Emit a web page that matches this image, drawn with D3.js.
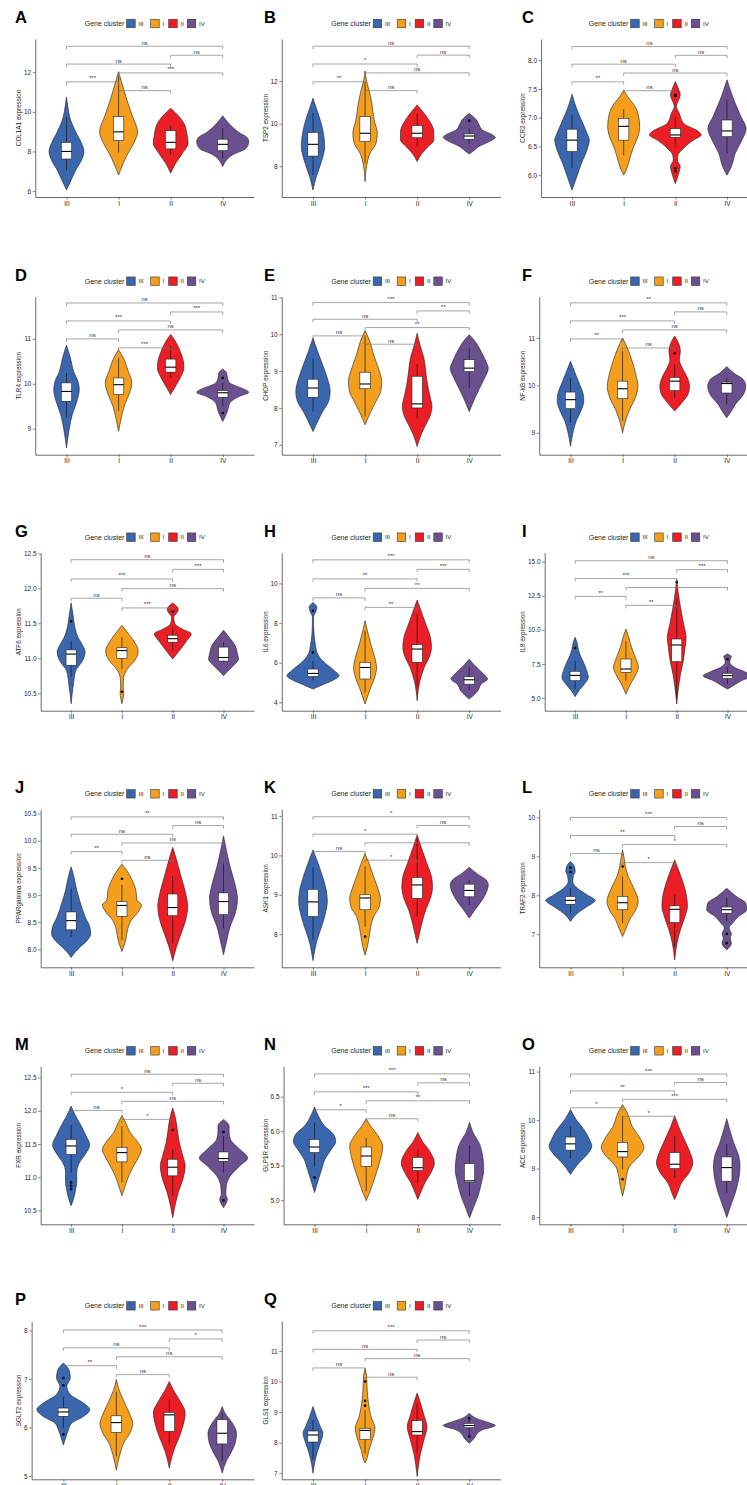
<!DOCTYPE html>
<html>
<head>
<meta charset="utf-8">
<script src="https://cdn.jsdelivr.net/npm/d3@7"></script>
<style>
  body { margin: 0; background: #fff; }
  svg { display: block; }
</style>
</head>
<body>
<svg id="fig" width="747" height="1485"></svg>
<script>
// ---- categories and labels ----
const clusters = ["III", "I", "II", "IV"];
const clusterColors = ["#3A66AE", "#F49E1E", "#EB1D25", "#6B5090"];
const letters = ["A","B","C","D","E","F","G","H","I","J","K","L","M","N","O","P","Q"];
const genes = ["COL1A1","TSP2","CCR2","TLR4","CHOP","NF-kB","ATF6","IL6","IL8","PPARgamma","ASK1","TRAF2","FXR","GLP1R","ACC","SGLT2","GLS1"];

// y-axis extents and tick labels for each gene
const yRanges = [[5.70,13.68],[6.56,13.97],[5.62,8.37],[8.42,11.94],[6.73,11.02],[8.54,11.87],[10.25,12.51],[3.58,11.55],[4.07,15.66],[7.67,10.58],[7.16,11.17],[6.15,10.21],[10.29,12.67],[4.65,6.94],[7.85,11.11],[4.93,8.19],[6.8,11.97]];
const yTickLabels = [
  ["6","8","10","12"],["8","10","12"],["6.0","6.5","7.0","7.5","8.0"],
  ["9","10","11"],["7","8","9","10","11"],["9","10","11"],
  ["10.5","11.0","11.5","12.0","12.5"],["4","6","8","10"],["5.0","7.5","10.0","12.5","15.0"],
  ["8.0","8.5","9.0","9.5","10.0","10.5"],["8","9","10","11"],["7","8","9","10"],
  ["10.5","11.0","11.5","12.0","12.5"],["5.0","5.5","6.0","6.5"],["8","9","10","11"],
  ["5","6","7","8"],["7","8","9","10","11"]
];

// pairwise comparisons, stacked from lowest to highest bracket
const comparisons = [["I","II"],["III","I"],["I","IV"],["III","II"],["II","IV"],["III","IV"]];
const sigLabels = [
  ["ns","***","***","ns","ns","ns"],
  ["ns","**","ns","*","ns","ns"],
  ["ns","**","ns","ns","ns","ns"],
  ["***","ns","ns","***","***","ns"],
  ["ns","ns","**","ns","**","***"],
  ["ns","**","ns","***","ns","**"],
  ["***","ns","ns","***","***","ns"],
  ["**","ns","**","**","***","***"],
  ["**","**","","***","***","ns"],
  ["ns","**","ns","ns","ns","**"],
  ["*","ns","","*","ns","*"],
  ["*","ns","*","**","ns","***"],
  ["*","ns","ns","*","ns","ns"],
  ["ns","*","**","***","ns","***"],
  ["*","*","***","**","ns","***"],
  ["ns","**","ns","ns","*","***"],
  ["ns","ns","ns","ns","ns","***"]
];
// expression level of the lowest and the highest bracket
const sigHeights = [[11.07,13.31],[11.55,13.63],[7.47,8.24],[10.8,11.8],[9.73,10.86],[10.79,11.74],[11.72,12.41],[8.79,11.19],[11.8,15.07],[9.64,10.44],[9.88,10.98],[8.84,10.0],[11.87,12.55],[6.18,6.83],[10.08,10.95],[7.09,8.01],[10.14,11.66]];

// ---- per gene: violin density profiles [expression, relative width] for III, I, II, IV ----
const COL1A1_violin = [
  [[10.74,0],[10.2,0.06],[9.76,0.12],[8.92,0.38],[8.41,0.58],[8.0,0.67],[7.57,0.58],[7.07,0.36],[6.56,0.18],[6.06,0]],
  [[12.03,0],[11.44,0.13],[10.6,0.32],[9.76,0.54],[9.0,0.73],[8.41,0.58],[7.9,0.36],[7.4,0.18],[6.81,0]],
  [[10.18,0],[9.85,0.26],[9.42,0.51],[8.75,0.64],[8.41,0.67],[7.9,0.45],[7.4,0.19],[6.9,0]],
  [[9.8,0],[9.42,0.23],[9.0,0.58],[8.67,0.96],[8.5,1.0],[8.16,0.9],[7.83,0.38],[7.57,0.15],[7.24,0]]
];
const COL1A1_box = [[7.05,7.62,8.0,8.46,9.75],[7.94,8.55,8.99,9.76,11.8],[7.83,8.13,8.46,9.05,9.3],[7.66,8.04,8.36,8.62,9.17]];
const COL1A1_out = [[],[],[],[]];

const TSP2_violin = [
  [[11.19,0],[10.64,0.15],[10.0,0.32],[9.39,0.42],[8.92,0.45],[8.45,0.38],[7.98,0.26],[7.52,0.13],[6.89,0]],
  [[12.47,0],[12.05,0.05],[11.58,0.15],[10.95,0.26],[10.17,0.35],[9.55,0.47],[9.08,0.42],[8.61,0.19],[8.14,0.08],[7.28,0]],
  [[10.88,0],[10.56,0.22],[10.17,0.45],[9.63,0.64],[9.23,0.64],[8.92,0.42],[8.61,0.19],[8.22,0]],
  [[10.48,0],[10.4,0.08],[10.17,0.28],[9.94,0.38],[9.7,0.51],[9.47,0.9],[9.36,1.0],[9.16,0.77],[8.92,0.36],[8.69,0.13],[8.58,0]]
];
const TSP2_box = [[7.6,8.48,9.03,9.59,10.5],[8.14,9.16,9.55,10.33,11.97],[8.92,9.34,9.55,9.91,10.48],[9.05,9.27,9.42,9.52,9.78]];
const TSP2_out = [[],[],[],[10.14]];

const CCR2_violin = [
  [[7.41,0],[7.19,0.15],[6.96,0.36],[6.73,0.58],[6.61,0.67],[6.44,0.58],[6.2,0.36],[5.97,0.18],[5.74,0]],
  [[7.48,0],[7.37,0.15],[7.19,0.45],[7.02,0.58],[6.84,0.62],[6.67,0.55],[6.49,0.38],[6.26,0.22],[6.09,0.1],[6.0,0]],
  [[7.63,0],[7.5,0.12],[7.4,0.19],[7.28,0.1],[7.2,0.04],[7.08,0.15],[6.9,0.32],[6.76,0.9],[6.7,1.0],[6.61,0.7],[6.47,0.32],[6.35,0.1],[6.26,0.08],[6.15,0.19],[6.06,0.15],[5.85,0]],
  [[7.66,0],[7.48,0.13],[7.25,0.32],[7.02,0.54],[6.81,0.74],[6.61,0.58],[6.38,0.32],[6.15,0.17],[6.0,0]]
];
const CCR2_box = [[6.12,6.41,6.61,6.8,7.05],[6.35,6.61,6.85,6.99,7.15],[6.47,6.66,6.7,6.81,7.02],[6.38,6.67,6.77,6.96,7.31]];
const CCR2_out = [[],[],[7.4,7.38,6.12,6.07],[]];

const TLR4_violin = [
  [[10.86,0],[10.58,0.15],[10.28,0.27],[10.02,0.46],[9.87,0.49],[9.61,0.4],[9.31,0.22],[9.01,0.11],[8.79,0.05],[8.57,0]],
  [[10.76,0],[10.58,0.18],[10.28,0.37],[10.02,0.51],[9.76,0.4],[9.54,0.24],[9.31,0.13],[9.09,0.05],[8.94,0]],
  [[11.1,0],[10.95,0.18],[10.72,0.37],[10.5,0.49],[10.35,0.51],[10.17,0.4],[9.98,0.22],[9.76,0]],
  [[10.33,0],[10.24,0.15],[10.13,0.18],[10.02,0.27],[9.88,0.82],[9.81,1.0],[9.72,0.64],[9.57,0.27],[9.39,0.18],[9.16,0]]
];
const TLR4_box = [[9.24,9.61,9.83,10.02,10.24],[9.39,9.76,9.98,10.13,10.58],[10.14,10.26,10.37,10.55,10.84],[9.5,9.7,9.8,9.85,10.02]];
const TLR4_out = [[],[],[],[10.13,9.35]];

const CHOP_violin = [
  [[9.9,0],[9.53,0.18],[9.17,0.37],[8.81,0.55],[8.45,0.66],[8.18,0.6],[7.9,0.37],[7.63,0.18],[7.36,0]],
  [[10.1,0],[9.81,0.18],[9.44,0.33],[9.08,0.51],[8.72,0.64],[8.45,0.6],[8.18,0.42],[7.9,0.22],[7.54,0]],
  [[10.03,0],[9.71,0.11],[9.35,0.26],[8.99,0.33],[8.63,0.4],[8.27,0.51],[8.04,0.57],[7.81,0.51],[7.54,0.33],[7.27,0.15],[6.95,0]],
  [[9.99,0],[9.81,0.22],[9.53,0.46],[9.26,0.64],[9.08,0.73],[8.81,0.59],[8.54,0.4],[8.27,0.22],[7.9,0]]
];
const CHOP_box = [[7.9,8.29,8.54,8.78,9.35],[7.77,8.52,8.65,8.97,9.94],[7.72,8.0,8.11,8.86,9.19],[8.54,8.99,9.08,9.31,9.62]];
const CHOP_out = [[],[],[],[]];

const NFkB_violin = [
  [[10.51,0],[10.3,0.15],[10.05,0.33],[9.81,0.49],[9.67,0.51],[9.46,0.4],[9.25,0.22],[9.04,0.11],[8.72,0]],
  [[11.0,0],[10.79,0.18],[10.51,0.37],[10.23,0.51],[9.98,0.59],[9.74,0.49],[9.49,0.27],[9.25,0.11],[9.0,0]],
  [[11.04,0],[10.89,0.15],[10.72,0.22],[10.54,0.18],[10.37,0.29],[10.16,0.49],[9.98,0.57],[9.81,0.51],[9.67,0.33],[9.46,0]],
  [[10.4,0],[10.26,0.27],[10.12,0.64],[9.98,0.73],[9.81,0.64],[9.6,0.33],[9.46,0.18],[9.32,0]]
];
const NFkB_box = [[9.21,9.51,9.7,9.86,10.16],[9.25,9.72,9.93,10.09,10.72],[9.74,9.89,10.09,10.17,10.44],[9.6,9.84,10.04,10.07,10.16]];
const NFkB_out = [[],[],[10.68],[]];

const ATF6_violin = [
  [[11.79,0],[11.63,0.07],[11.44,0.15],[11.3,0.27],[11.18,0.46],[11.09,0.55],[10.97,0.46],[10.82,0.18],[10.63,0.09],[10.35,0]],
  [[11.47,0],[11.37,0.22],[11.25,0.46],[11.11,0.64],[10.97,0.51],[10.85,0.22],[10.73,0.07],[10.59,0.05],[10.51,0.07],[10.35,0]],
  [[11.79,0],[11.7,0.22],[11.66,0.18],[11.59,0.04],[11.49,0.09],[11.42,0.37],[11.35,0.73],[11.25,0.55],[11.16,0.37],[11.09,0.22],[10.99,0]],
  [[11.4,0],[11.3,0.22],[11.18,0.46],[11.06,0.55],[10.99,0.59],[10.92,0.46],[10.82,0.18],[10.75,0]]
];
const ATF6_box = [[10.73,10.9,11.06,11.12,11.25],[10.85,11.0,11.11,11.15,11.3],[11.11,11.23,11.28,11.33,11.44],[10.94,10.96,11.01,11.16,11.23]];
const ATF6_out = [[11.53],[10.52],[11.67],[]];

const IL6_violin = [
  [[9.04,0],[8.79,0.15],[8.59,0.11],[8.29,0.02],[7.45,0.04],[6.77,0.11],[6.52,0.15],[6.1,0.37],[5.6,0.82],[5.34,1.0],[5.09,0.73],[4.89,0.37],[4.67,0]],
  [[8.12,0],[7.61,0.09],[6.94,0.22],[6.27,0.37],[5.76,0.44],[5.26,0.37],[4.76,0.22],[4.34,0.11],[3.92,0]],
  [[9.16,0],[8.62,0.15],[7.95,0.33],[7.28,0.51],[6.77,0.55],[6.27,0.46],[5.76,0.27],[5.09,0.11],[4.08,0]],
  [[6.18,0],[5.85,0.22],[5.43,0.55],[5.18,0.7],[4.92,0.46],[4.59,0.33],[4.17,0]]
];
const IL6_box = [[5.09,5.31,5.46,5.68,6.1],[4.5,5.18,5.76,6.02,7.61],[4.76,6.02,6.69,6.91,8.45],[4.62,4.92,5.14,5.29,5.76]];
const IL6_out = [[8.62,6.52],[],[],[]];

const IL8_violin = [
  [[9.45,0],[8.96,0.09],[8.72,0.11],[8.23,0.18],[7.62,0.33],[7.0,0.46],[6.52,0.52],[6.03,0.37],[5.54,0.15],[5.1,0]],
  [[10.06,0],[9.45,0.11],[8.72,0.22],[7.98,0.37],[7.25,0.49],[6.64,0.37],[6.03,0.18],[5.29,0]],
  [[13.73,0],[12.87,0.05],[11.65,0.15],[10.43,0.27],[9.45,0.37],[8.72,0.33],[7.74,0.26],[6.76,0.15],[5.78,0.07],[4.56,0]],
  [[8.23,0],[8.03,0.15],[7.84,0.11],[7.62,0.09],[7.25,0.27],[6.88,0.73],[6.64,0.96],[6.27,0.55],[5.9,0.22],[5.66,0]]
];
const IL8_box = [[5.66,6.27,6.66,6.96,7.74],[6.27,6.88,7.13,7.86,9.16],[5.0,7.67,8.89,9.33,12.3],[6.03,6.44,6.64,6.81,7.25]];
const IL8_out = [[8.67],[],[13.5],[7.84]];

const PPARgamma_violin = [
  [[9.52,0],[9.34,0.11],[9.09,0.22],[8.85,0.37],[8.6,0.55],[8.42,0.73],[8.29,0.77],[8.17,0.64],[8.05,0.37],[7.96,0.18],[7.85,0]],
  [[9.57,0],[9.46,0.18],[9.28,0.4],[9.09,0.55],[8.91,0.59],[8.82,0.77],[8.69,0.64],[8.54,0.37],[8.36,0.22],[8.17,0.15],[8.05,0.07],[7.96,0]],
  [[9.88,0],[9.65,0.15],[9.34,0.33],[9.03,0.51],[8.79,0.59],[8.54,0.51],[8.29,0.33],[8.05,0.15],[7.79,0]],
  [[10.09,0],[9.83,0.11],[9.52,0.26],[9.22,0.44],[8.94,0.55],[8.66,0.46],[8.42,0.26],[8.17,0.13],[7.9,0]]
];
const PPARgamma_box = [[8.23,8.36,8.53,8.69,9.12],[8.17,8.61,8.81,8.88,9.19],[8.11,8.62,8.77,9.02,9.35],[8.39,8.64,8.88,9.04,9.58]];
const PPARgamma_out = [[],[9.3],[],[]];

const ASK1_violin = [
  [[10.14,0],[9.88,0.15],[9.46,0.37],[9.12,0.51],[8.83,0.55],[8.53,0.48],[8.19,0.33],[7.86,0.16],[7.6,0.07],[7.33,0]],
  [[10.05,0],[9.8,0.15],[9.46,0.33],[9.12,0.51],[8.91,0.59],[8.7,0.55],[8.45,0.33],[8.19,0.22],[7.94,0.16],[7.69,0.09],[7.47,0]],
  [[10.52,0],[10.22,0.15],[9.8,0.37],[9.46,0.55],[9.21,0.59],[8.91,0.51],[8.62,0.33],[8.28,0.18],[8.02,0.09],[7.77,0]],
  [[9.7,0],[9.55,0.27],[9.38,0.64],[9.25,0.73],[9.04,0.64],[8.83,0.46],[8.62,0.22],[8.41,0]]
];
const ASK1_box = [[7.85,8.45,8.82,9.14,9.7],[8.19,8.62,8.92,9.0,9.72],[8.45,8.91,9.25,9.44,10.43],[8.74,8.95,9.11,9.27,9.38]];
const ASK1_out = [[],[7.94],[],[]];

const TRAF2_violin = [
  [[8.87,0],[8.74,0.15],[8.61,0.18],[8.5,0.11],[8.35,0.09],[8.18,0.27],[8.01,0.64],[7.87,0.95],[7.71,0.64],[7.54,0.27],[7.33,0]],
  [[9.17,0],[9.0,0.05],[8.74,0.11],[8.48,0.22],[8.14,0.46],[7.84,0.6],[7.63,0.51],[7.37,0.27],[7.11,0.11],[6.94,0]],
  [[8.91,0],[8.65,0.15],[8.31,0.33],[7.97,0.46],[7.71,0.49],[7.46,0.4],[7.11,0.22],[6.77,0.09],[6.34,0]],
  [[8.18,0],[7.97,0.37],[7.8,0.73],[7.63,0.77],[7.46,0.46],[7.28,0.22],[7.16,0.09],[7.01,0.18],[6.9,0.13],[6.77,0.18],[6.6,0]]
];
const TRAF2_box = [[7.54,7.77,7.87,7.97,8.18],[7.28,7.63,7.81,7.97,8.48],[6.68,7.3,7.64,7.73,8.01],[7.33,7.54,7.63,7.7,7.93]];
const TRAF2_out = [[8.71,8.6],[8.74],[],[7.01,6.77]];

const FXR_violin = [
  [[12.07,0],[11.92,0.18],[11.77,0.4],[11.62,0.59],[11.49,0.73],[11.34,0.55],[11.22,0.33],[11.07,0.22],[10.92,0.22],[10.82,0.18],[10.72,0.13],[10.57,0]],
  [[11.93,0],[11.82,0.15],[11.67,0.33],[11.52,0.64],[11.42,0.77],[11.29,0.64],[11.17,0.46],[11.02,0.27],[10.87,0.13],[10.72,0]],
  [[12.04,0],[11.89,0.11],[11.72,0.18],[11.52,0.26],[11.32,0.4],[11.17,0.49],[10.97,0.4],[10.77,0.22],[10.57,0.09],[10.39,0]],
  [[11.87,0],[11.77,0.22],[11.67,0.22],[11.57,0.27],[11.42,0.64],[11.29,0.95],[11.17,0.64],[11.02,0.27],[10.87,0.11],[10.74,0.09],[10.67,0.15],[10.54,0]]
];
const FXR_box = [[11.07,11.34,11.47,11.57,11.79],[10.92,11.23,11.37,11.45,11.77],[10.72,11.02,11.15,11.27,11.42],[11.07,11.24,11.28,11.38,11.62]];
const FXR_out = [[10.92,10.87,10.82],[],[11.71],[11.68,10.65]];

const GLP1R_violin = [
  [[6.35,0],[6.22,0.15],[6.07,0.4],[5.97,0.7],[5.85,0.82],[5.73,0.64],[5.59,0.4],[5.44,0.27],[5.3,0.15],[5.11,0]],
  [[6.18,0],[6.07,0.18],[5.93,0.46],[5.78,0.64],[5.59,0.55],[5.4,0.4],[5.2,0.22],[4.99,0]],
  [[5.98,0],[5.85,0.18],[5.71,0.46],[5.54,0.64],[5.4,0.51],[5.25,0.27],[5.11,0.11],[5.01,0]],
  [[6.13,0],[5.97,0.15],[5.83,0.37],[5.64,0.51],[5.44,0.55],[5.25,0.46],[5.06,0.33],[4.89,0.15],[4.74,0]]
];
const GLP1R_box = [[5.49,5.69,5.77,5.88,6.12],[5.13,5.49,5.64,5.77,5.9],[5.25,5.43,5.47,5.62,5.73],[5.06,5.26,5.28,5.53,5.8]];
const GLP1R_out = [[5.33],[],[],[]];

const ACC_violin = [
  [[10.22,0],[10.01,0.22],[9.81,0.51],[9.6,0.73],[9.46,0.82],[9.29,0.64],[9.12,0.33],[8.88,0]],
  [[10.32,0],[10.15,0.18],[9.87,0.37],[9.6,0.7],[9.43,0.82],[9.26,0.64],[9.05,0.27],[8.84,0.15],[8.64,0.09],[8.43,0]],
  [[10.09,0],[9.87,0.15],[9.6,0.37],[9.33,0.59],[9.12,0.7],[8.91,0.55],[8.71,0.27],[8.5,0.11],[8.36,0]],
  [[10.03,0],[9.81,0.11],[9.53,0.27],[9.26,0.46],[9.05,0.51],[8.78,0.46],[8.5,0.33],[8.23,0.15],[7.99,0]]
];
const ACC_box = [[9.2,9.38,9.51,9.65,9.87],[8.98,9.24,9.35,9.54,10.08],[8.81,9.0,9.09,9.33,9.67],[8.5,8.74,9.02,9.24,9.5]];
const ACC_out = [[],[8.78],[],[]];

const SGLT2_violin = [
  [[7.33,0],[7.16,0.23],[7.02,0.26],[6.85,0.13],[6.68,0.26],[6.5,0.77],[6.37,1.0],[6.23,0.77],[6.09,0.32],[5.95,0.19],[5.81,0.1],[5.64,0]],
  [[6.99,0],[6.78,0.1],[6.5,0.32],[6.23,0.54],[6.09,0.62],[5.88,0.51],[5.68,0.28],[5.47,0.15],[5.33,0.08],[5.12,0]],
  [[6.95,0],[6.78,0.15],[6.57,0.38],[6.3,0.6],[6.02,0.51],[5.81,0.38],[5.61,0.23],[5.4,0.1],[5.16,0]],
  [[6.43,0],[6.3,0.1],[6.09,0.38],[5.88,0.54],[5.68,0.49],[5.47,0.32],[5.3,0.15],[5.06,0]]
];
const SGLT2_box = [[5.99,6.23,6.32,6.4,6.64],[5.4,5.9,6.1,6.24,6.74],[5.66,5.92,6.26,6.31,6.59],[5.31,5.66,5.88,6.16,6.31]];
const SGLT2_out = [[7.02,6.87,5.86],[],[],[]];

const GLS1_violin = [
  [[9.18,0],[8.85,0.13],[8.53,0.28],[8.31,0.38],[7.98,0.28],[7.65,0.15],[7.33,0.06],[7.0,0]],
  [[10.43,0],[10.16,0.06],[9.72,0.08],[9.29,0.13],[8.85,0.23],[8.47,0.38],[8.09,0.28],[7.76,0.15],[7.44,0.06],[7.33,0]],
  [[9.62,0],[9.29,0.13],[8.85,0.28],[8.53,0.38],[8.09,0.26],[7.65,0.13],[6.89,0]],
  [[8.96,0],[8.8,0.26],[8.63,0.83],[8.56,1.0],[8.42,0.51],[8.25,0.26],[8.14,0.19],[7.98,0]]
];
const GLS1_box = [[7.44,8.02,8.25,8.38,8.74],[7.65,8.11,8.4,8.47,9.07],[7.65,8.25,8.36,8.72,9.29],[8.25,8.49,8.56,8.63,8.8]];
const GLS1_out = [[],[10.0,9.37,9.21],[],[8.8,8.2]];

// gene-wise tables assembled from the arrays above
const violins = [COL1A1_violin,TSP2_violin,CCR2_violin,TLR4_violin,CHOP_violin,NFkB_violin,ATF6_violin,IL6_violin,IL8_violin,PPARgamma_violin,ASK1_violin,TRAF2_violin,FXR_violin,GLP1R_violin,ACC_violin,SGLT2_violin,GLS1_violin];
const boxes = [COL1A1_box,TSP2_box,CCR2_box,TLR4_box,CHOP_box,NFkB_box,ATF6_box,IL6_box,IL8_box,PPARgamma_box,ASK1_box,TRAF2_box,FXR_box,GLP1R_box,ACC_box,SGLT2_box,GLS1_box];
const outliers = [COL1A1_out,TSP2_out,CCR2_out,TLR4_out,CHOP_out,NFkB_out,ATF6_out,IL6_out,IL8_out,PPARgamma_out,ASK1_out,TRAF2_out,FXR_out,GLP1R_out,ACC_out,SGLT2_out,GLS1_out];

// ---- layout ----
const FONT = "'Liberation Sans', Arial, Helvetica, sans-serif";
const colX = [0, 246.5, 504];
const rowBottom = [197, 454.7, 710.7, 967.3, 1224.3, 1479.3];
const plotH = 158;
const panelW = 254;
const letterX = [15, 264, 522];
const legendKeyX = [126.7, 150.7, 168.7, 187.3];
const keySize = 8.5;
const axisColor = "#1a1a1a";
const textColor = "#262626";
const bracketColor = "#747474";

const svg = d3.select("#fig");

genes.forEach((gene, i) => {
  const col = i % 3, row = Math.floor(i / 3);
  const x0 = colX[col];
  const bottom = rowBottom[row];
  const top = bottom - plotH;
  const g = svg.append("g").attr("font-family", FONT);

  const y = d3.scaleLinear().domain(yRanges[i]).range([bottom, top]);

  // width of the widest tick label decides where the y axis sits
  const probe = g.append("g").attr("font-size", 6.5);
  let maxW = 0;
  yTickLabels[i].forEach(t => {
    const n = probe.append("text").text(t);
    maxW = Math.max(maxW, n.node().getComputedTextLength());
  });
  probe.remove();
  const left = x0 + 28 + maxW;

  const x = d3.scalePoint().domain(clusters).range([left, x0 + panelW]).padding(0.6);
  const half = x.step() * 0.5;
  const boxW = x.step() * 0.2;

  // panel letter
  g.append("text")
    .attr("x", letterX[col]).attr("y", bottom - 174)
    .attr("font-size", 16.5).attr("font-weight", "bold").attr("fill", "#000")
    .text(letters[i]);

  // legend
  const lg = g.append("g").attr("transform", `translate(${x0},${bottom - 173.5})`);
  lg.append("text")
    .attr("x", legendKeyX[0] - 2.3).attr("y", 0).attr("dy", "0.35em")
    .attr("text-anchor", "end").attr("font-size", 7).attr("fill", textColor)
    .text("Gene cluster");
  clusters.forEach((c, k) => {
    lg.append("rect")
      .attr("x", legendKeyX[k]).attr("y", -keySize / 2)
      .attr("width", keySize).attr("height", keySize)
      .attr("fill", clusterColors[k]).attr("stroke", "#333").attr("stroke-width", 0.6);
    lg.append("text")
      .attr("x", legendKeyX[k] + keySize + 3.3).attr("y", 0).attr("dy", "0.35em")
      .attr("font-size", 6).attr("fill", textColor)
      .text(c);
  });

  // y axis
  const tickVals = yTickLabels[i].map(Number);
  g.append("g")
    .attr("transform", `translate(${left},0)`)
    .call(d3.axisLeft(y).tickValues(tickVals).tickFormat((d, k) => yTickLabels[i][k])
      .tickSize(2.5).tickSizeOuter(0).tickPadding(1.5))
    .call(a => {
      a.attr("font-family", FONT).attr("font-size", 6.5);
      a.select(".domain").attr("stroke", axisColor).attr("stroke-width", 0.65);
      a.selectAll(".tick line").attr("stroke", axisColor).attr("stroke-width", 0.55);
      a.selectAll(".tick text").attr("fill", textColor);
    });

  // x axis
  g.append("g")
    .attr("transform", `translate(0,${bottom})`)
    .call(d3.axisBottom(x).tickSize(2.5).tickSizeOuter(0).tickPadding(1.5))
    .call(a => {
      a.attr("font-family", FONT).attr("font-size", 6.5);
      a.select(".domain").attr("stroke", axisColor).attr("stroke-width", 0.65);
      a.selectAll(".tick line").attr("stroke", axisColor).attr("stroke-width", 0.55);
      a.selectAll(".tick text").attr("fill", textColor);
    });

  // y axis title
  g.append("text")
    .attr("transform", `translate(${x0 + 19},${(top + bottom) / 2}) rotate(-90)`)
    .attr("text-anchor", "middle").attr("dy", "0.35em")
    .attr("font-size", 6.3).attr("fill", textColor)
    .text(gene + " expression");

  // violins with embedded box plots
  clusters.forEach((c, k) => {
    const cx = x(c);
    const area = d3.area()
      .curve(d3.curveMonotoneY)
      .y(d => y(d[0]))
      .x0(d => cx - d[1] * half)
      .x1(d => cx + d[1] * half);
    g.append("path")
      .datum(violins[i][k])
      .attr("d", area)
      .attr("fill", clusterColors[k])
      .attr("stroke", "#1e1e1e").attr("stroke-width", 0.6);

    const [lo, q1, med, q3, hi] = boxes[i][k];
    g.append("line")
      .attr("x1", cx).attr("x2", cx).attr("y1", y(lo)).attr("y2", y(hi))
      .attr("stroke", "#111").attr("stroke-width", 0.65);
    g.append("rect")
      .attr("x", cx - boxW / 2).attr("y", y(q3))
      .attr("width", boxW).attr("height", y(q1) - y(q3))
      .attr("fill", "#fff").attr("stroke", "#222").attr("stroke-width", 0.6);
    g.append("line")
      .attr("x1", cx - boxW / 2).attr("x2", cx + boxW / 2)
      .attr("y1", y(med)).attr("y2", y(med))
      .attr("stroke", "#000").attr("stroke-width", 1.1);
    g.selectAll(null)
      .data(outliers[i][k]).enter().append("circle")
      .attr("cx", cx).attr("cy", d => y(d)).attr("r", 1.3)
      .attr("fill", "#000");
  });

  // significance brackets
  const [sLo, sHi] = sigHeights[i];
  const tip = 3;
  comparisons.forEach((pair, k) => {
    const v = sLo + (sHi - sLo) * k / (comparisons.length - 1);
    const yy = y(v);
    const xa = x(pair[0]), xb = x(pair[1]);
    const x1 = Math.min(xa, xb), x2 = Math.max(xa, xb);
    g.append("path")
      .attr("d", `M${x1},${yy + tip}V${yy}H${x2}V${yy + tip}`)
      .attr("fill", "none").attr("stroke", bracketColor).attr("stroke-width", 0.65);
    if (sigLabels[i][k]) {
      g.append("text")
        .attr("x", (x1 + x2) / 2).attr("y", yy - 1.5)
        .attr("text-anchor", "middle").attr("font-size", 6).attr("fill", "#333")
        .text(sigLabels[i][k]);
    }
  });
});
</script>
</body>
</html>
